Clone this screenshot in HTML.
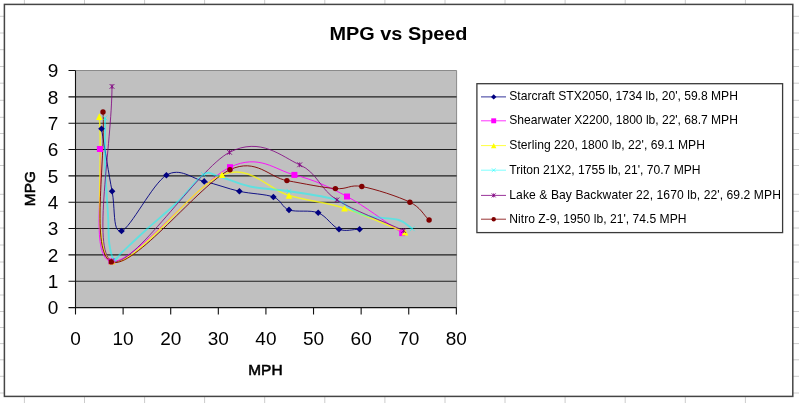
<!DOCTYPE html>
<html><head><meta charset="utf-8"><title>MPG vs Speed</title>
<style>html,body{margin:0;padding:0;background:#fff}body{width:799px;height:403px;overflow:hidden}</style></head>
<body>
<svg width="799" height="403" viewBox="0 0 799 403" style="display:block;will-change:transform;filter:blur(0.35px)">
<rect width="799" height="403" fill="#fff"/>
<path d="M24.4,0V403 M84.5,0V403 M144.6,0V403 M204.6,0V403 M264.7,0V403 M324.8,0V403 M384.9,0V403 M445.0,0V403 M505.0,0V403 M565.1,0V403 M625.2,0V403 M685.3,0V403 M745.4,0V403 M0,16.3H799 M0,33.0H799 M0,49.7H799 M0,66.5H799 M0,83.2H799 M0,100.3H799 M0,117.3H799 M0,133.5H799 M0,149.5H799 M0,165.5H799 M0,194.3H799 M0,211.3H799 M0,228.0H799 M0,245.0H799 M0,262.0H799 M0,278.5H799 M0,295.0H799 M0,311.5H799 M0,327.5H799 M0,343.6H799 M0,359.8H799 M0,376.3H799 M0,393.0H799" stroke="#cccccc" stroke-width="1" fill="none"/>
<rect x="4.4" y="4.4" width="788.4" height="392" fill="#fff" stroke="#454545" stroke-width="1.5"/>
<rect x="75.5" y="70.5" width="381.1" height="237.10000000000002" fill="#c0c0c0"/>
<path d="M75.5,70.5H456.6V307.6" stroke="#8a8a8a" stroke-width="1" fill="none"/>
<path d="M75.5,281.26H456.6 M75.5,254.91H456.6 M75.5,228.57H456.6 M75.5,202.22H456.6 M75.5,175.88H456.6 M75.5,149.54H456.6 M75.5,123.19H456.6 M75.5,96.85H456.6" stroke="#202020" stroke-width="1.1" fill="none"/>
<path d="M75.5,70.5V314.6 M68.5,307.6H456.6 M68.5,307.60H75.5 M68.5,281.26H75.5 M68.5,254.91H75.5 M68.5,228.57H75.5 M68.5,202.22H75.5 M68.5,175.88H75.5 M68.5,149.54H75.5 M68.5,123.19H75.5 M68.5,96.85H75.5 M68.5,70.50H75.5 M75.50,307.6V314.6 M123.11,307.6V314.6 M170.71,307.6V314.6 M218.32,307.6V314.6 M265.92,307.6V314.6 M313.53,307.6V314.6 M361.14,307.6V314.6 M408.74,307.6V314.6 M456.35,307.6V314.6" stroke="#111" stroke-width="1.1" fill="none"/>
<path d="M101.50,128.80 C105.03,149.63 108.77,174.27 112.10,191.30 C115.43,208.33 112.45,233.68 121.50,231.00 C130.55,228.32 152.62,183.47 166.40,175.20 C180.18,166.93 192.03,178.72 204.20,181.40 C216.37,184.08 227.87,188.70 239.40,191.30 C250.93,193.90 265.13,193.90 273.40,197.00 C281.67,200.10 281.53,207.27 289.00,209.90 C296.47,212.53 309.87,209.58 318.20,212.80 C326.53,216.02 332.10,226.47 339.00,229.20 C345.90,231.93 352.73,229.20 359.60,229.20" stroke="#000080" stroke-width="1.0" stroke-opacity="0.9" fill="none"/>
<path d="M99.90,149.00 C103.80,186.50 89.92,258.47 111.60,261.50 C133.28,264.53 199.53,181.63 230.00,167.20 C259.31,153.32 274.90,170.02 294.40,174.90 C313.90,179.78 329.03,186.80 347.00,196.50 C364.97,206.20 383.80,220.90 402.20,233.10" stroke="#FF00FF" stroke-width="1.0" stroke-opacity="0.9" fill="none"/>
<path d="M99.30,116.60 C103.53,164.83 91.55,251.62 112.00,261.30 C132.45,270.98 192.50,185.67 222.00,174.70 C251.50,163.73 268.58,189.92 289.00,195.50 C309.42,201.08 325.17,202.08 344.50,208.20 C363.83,214.32 384.83,224.20 405.00,232.20" stroke="#FFFF00" stroke-width="1.5" stroke-opacity="0.75" fill="none"/>
<path d="M105.00,118.00 C105.07,133.67 104.97,153.00 105.20,165.00 C105.43,177.00 105.90,181.17 106.40,190.00 C106.90,198.83 107.73,209.17 108.20,218.00 C108.67,226.83 108.23,236.07 109.20,243.00 C110.17,249.93 112.03,257.88 114.00,259.60 C115.97,261.32 117.55,256.50 121.00,253.30 C126.50,248.20 137.62,237.50 147.00,229.00 C156.38,220.50 167.88,211.38 177.30,202.30 C186.72,193.22 196.72,178.88 203.50,174.50 C209.62,170.54 210.94,174.18 218.00,176.00 C225.75,178.00 238.17,183.95 250.00,186.50 C261.83,189.05 274.83,189.13 289.00,191.30 C303.17,193.47 324.00,196.13 335.00,199.50 C346.00,202.87 349.17,208.67 355.00,211.50 C360.83,214.33 362.70,215.08 370.00,216.50 C377.30,217.92 391.75,217.95 398.80,220.00 C405.85,222.05 407.80,225.87 412.30,228.80" stroke="#00FFFF" stroke-width="1.9" stroke-opacity="0.5" fill="none"/>
<path d="M112.00,86.40 C111.83,144.60 91.92,250.02 111.50,261.00 C131.08,271.98 198.13,168.33 229.50,152.30 C260.87,136.27 281.80,156.87 299.70,164.80 C317.60,172.73 319.57,188.93 336.90,199.90 C354.23,210.87 381.43,220.37 403.70,230.60" stroke="#800080" stroke-width="1.0" stroke-opacity="0.8" fill="none"/>
<path d="M103.00,112.00 C105.77,161.97 90.13,252.28 111.30,261.90 C132.47,271.52 200.73,183.25 230.00,169.70 C256.29,157.53 269.33,177.45 286.90,180.60 C304.47,183.75 322.92,187.62 335.40,188.60 C347.88,189.58 349.38,184.23 361.80,186.50 C374.22,188.77 398.68,196.62 409.90,202.20 C421.12,207.78 422.70,214.07 429.10,220.00" stroke="#800000" stroke-width="1.0" stroke-opacity="0.9" fill="none"/>
<path d="M101.50,125.50 L104.80,128.80 L101.50,132.10 L98.20,128.80Z" fill="#000080"/>
<path d="M112.10,188.00 L115.40,191.30 L112.10,194.60 L108.80,191.30Z" fill="#000080"/>
<path d="M121.50,227.70 L124.80,231.00 L121.50,234.30 L118.20,231.00Z" fill="#000080"/>
<path d="M166.40,171.90 L169.70,175.20 L166.40,178.50 L163.10,175.20Z" fill="#000080"/>
<path d="M204.20,178.10 L207.50,181.40 L204.20,184.70 L200.90,181.40Z" fill="#000080"/>
<path d="M239.40,188.00 L242.70,191.30 L239.40,194.60 L236.10,191.30Z" fill="#000080"/>
<path d="M273.40,193.70 L276.70,197.00 L273.40,200.30 L270.10,197.00Z" fill="#000080"/>
<path d="M289.00,206.60 L292.30,209.90 L289.00,213.20 L285.70,209.90Z" fill="#000080"/>
<path d="M318.20,209.50 L321.50,212.80 L318.20,216.10 L314.90,212.80Z" fill="#000080"/>
<path d="M339.00,225.90 L342.30,229.20 L339.00,232.50 L335.70,229.20Z" fill="#000080"/>
<path d="M359.60,225.90 L362.90,229.20 L359.60,232.50 L356.30,229.20Z" fill="#000080"/>
<rect x="96.90" y="146.00" width="6.0" height="6.0" fill="#FF00FF"/>
<rect x="108.60" y="258.50" width="6.0" height="6.0" fill="#FF00FF"/>
<rect x="227.00" y="164.20" width="6.0" height="6.0" fill="#FF00FF"/>
<rect x="291.40" y="171.90" width="6.0" height="6.0" fill="#FF00FF"/>
<rect x="344.00" y="193.50" width="6.0" height="6.0" fill="#FF00FF"/>
<rect x="399.20" y="230.10" width="6.0" height="6.0" fill="#FF00FF"/>
<path d="M99.30,113.30 L102.60,119.90 L96.00,119.90Z" fill="#FFFF00"/>
<path d="M112.00,258.00 L115.30,264.60 L108.70,264.60Z" fill="#FFFF00"/>
<path d="M222.00,171.40 L225.30,178.00 L218.70,178.00Z" fill="#FFFF00"/>
<path d="M289.00,192.20 L292.30,198.80 L285.70,198.80Z" fill="#FFFF00"/>
<path d="M344.50,204.90 L347.80,211.50 L341.20,211.50Z" fill="#FFFF00"/>
<path d="M405.00,228.90 L408.30,235.50 L401.70,235.50Z" fill="#FFFF00"/>
<path d="M102.60,115.60 L107.40,120.40 M107.40,115.60 L102.60,120.40" stroke="#00FFFF" stroke-width="1" fill="none" opacity="0.5"/>
<path d="M111.60,257.20 L116.40,262.00 M116.40,257.20 L111.60,262.00" stroke="#00FFFF" stroke-width="1" fill="none" opacity="0.5"/>
<path d="M201.10,172.10 L205.90,176.90 M205.90,172.10 L201.10,176.90" stroke="#00FFFF" stroke-width="1" fill="none" opacity="0.5"/>
<path d="M286.60,188.90 L291.40,193.70 M291.40,188.90 L286.60,193.70" stroke="#00FFFF" stroke-width="1" fill="none" opacity="0.5"/>
<path d="M409.90,226.40 L414.70,231.20 M414.70,226.40 L409.90,231.20" stroke="#00FFFF" stroke-width="1" fill="none" opacity="0.5"/>
<path d="M109.60,84.00 L114.40,88.80 M114.40,84.00 L109.60,88.80 M112.00,84.00 L112.00,88.80" stroke="#800080" stroke-width="0.9" fill="none"/>
<path d="M109.10,258.60 L113.90,263.40 M113.90,258.60 L109.10,263.40 M111.50,258.60 L111.50,263.40" stroke="#800080" stroke-width="0.9" fill="none"/>
<path d="M227.10,149.90 L231.90,154.70 M231.90,149.90 L227.10,154.70 M229.50,149.90 L229.50,154.70" stroke="#800080" stroke-width="0.9" fill="none"/>
<path d="M297.30,162.40 L302.10,167.20 M302.10,162.40 L297.30,167.20 M299.70,162.40 L299.70,167.20" stroke="#800080" stroke-width="0.9" fill="none"/>
<path d="M334.50,197.50 L339.30,202.30 M339.30,197.50 L334.50,202.30 M336.90,197.50 L336.90,202.30" stroke="#800080" stroke-width="0.9" fill="none"/>
<path d="M401.30,228.20 L406.10,233.00 M406.10,228.20 L401.30,233.00 M403.70,228.20 L403.70,233.00" stroke="#800080" stroke-width="0.9" fill="none"/>
<circle cx="103.00" cy="112.00" r="2.70" fill="#800000"/>
<circle cx="111.30" cy="261.90" r="2.70" fill="#800000"/>
<circle cx="230.00" cy="169.70" r="2.70" fill="#800000"/>
<circle cx="286.90" cy="180.60" r="2.70" fill="#800000"/>
<circle cx="335.40" cy="188.60" r="2.70" fill="#800000"/>
<circle cx="361.80" cy="186.50" r="2.70" fill="#800000"/>
<circle cx="409.90" cy="202.20" r="2.70" fill="#800000"/>
<circle cx="429.10" cy="220.00" r="2.70" fill="#800000"/>
<text x="398.5" y="39.8" text-anchor="middle" font-family="Liberation Sans, Arial, sans-serif" font-size="19" font-weight="bold" textLength="138" lengthAdjust="spacingAndGlyphs" fill="#000">MPG vs Speed</text>
<text x="58.3" y="314.30" text-anchor="end" font-family="Liberation Sans, Arial, sans-serif" font-size="19" fill="#000">0</text>
<text x="58.3" y="287.96" text-anchor="end" font-family="Liberation Sans, Arial, sans-serif" font-size="19" fill="#000">1</text>
<text x="58.3" y="261.61" text-anchor="end" font-family="Liberation Sans, Arial, sans-serif" font-size="19" fill="#000">2</text>
<text x="58.3" y="235.27" text-anchor="end" font-family="Liberation Sans, Arial, sans-serif" font-size="19" fill="#000">3</text>
<text x="58.3" y="208.92" text-anchor="end" font-family="Liberation Sans, Arial, sans-serif" font-size="19" fill="#000">4</text>
<text x="58.3" y="182.58" text-anchor="end" font-family="Liberation Sans, Arial, sans-serif" font-size="19" fill="#000">5</text>
<text x="58.3" y="156.24" text-anchor="end" font-family="Liberation Sans, Arial, sans-serif" font-size="19" fill="#000">6</text>
<text x="58.3" y="129.89" text-anchor="end" font-family="Liberation Sans, Arial, sans-serif" font-size="19" fill="#000">7</text>
<text x="58.3" y="103.55" text-anchor="end" font-family="Liberation Sans, Arial, sans-serif" font-size="19" fill="#000">8</text>
<text x="58.3" y="77.20" text-anchor="end" font-family="Liberation Sans, Arial, sans-serif" font-size="19" fill="#000">9</text>
<text x="75.50" y="344.8" text-anchor="middle" font-family="Liberation Sans, Arial, sans-serif" font-size="19" fill="#000">0</text>
<text x="123.11" y="344.8" text-anchor="middle" font-family="Liberation Sans, Arial, sans-serif" font-size="19" fill="#000">10</text>
<text x="170.71" y="344.8" text-anchor="middle" font-family="Liberation Sans, Arial, sans-serif" font-size="19" fill="#000">20</text>
<text x="218.32" y="344.8" text-anchor="middle" font-family="Liberation Sans, Arial, sans-serif" font-size="19" fill="#000">30</text>
<text x="265.92" y="344.8" text-anchor="middle" font-family="Liberation Sans, Arial, sans-serif" font-size="19" fill="#000">40</text>
<text x="313.53" y="344.8" text-anchor="middle" font-family="Liberation Sans, Arial, sans-serif" font-size="19" fill="#000">50</text>
<text x="361.14" y="344.8" text-anchor="middle" font-family="Liberation Sans, Arial, sans-serif" font-size="19" fill="#000">60</text>
<text x="408.74" y="344.8" text-anchor="middle" font-family="Liberation Sans, Arial, sans-serif" font-size="19" fill="#000">70</text>
<text x="456.35" y="344.8" text-anchor="middle" font-family="Liberation Sans, Arial, sans-serif" font-size="19" fill="#000">80</text>
<text x="265.4" y="374.7" text-anchor="middle" font-family="Liberation Sans, Arial, sans-serif" font-size="15.4" stroke="#000" stroke-width="0.55" fill="#000">MPH</text>
<text transform="translate(35,188.6) rotate(-90)" text-anchor="middle" font-family="Liberation Sans, Arial, sans-serif" font-size="15.4" stroke="#000" stroke-width="0.55" fill="#000">MPG</text>
<rect x="476.9" y="83.7" width="305.7" height="148.9" fill="#fff" stroke="#3a3a3a" stroke-width="1.3"/>
<path d="M481,96.9H506" stroke="#000080" stroke-width="1" stroke-opacity="0.8" fill="none"/>
<path d="M493.70,94.19 L496.41,96.90 L493.70,99.61 L490.99,96.90Z" fill="#000080"/>
<text x="509.3" y="100.40" font-family="Liberation Sans, Arial, sans-serif" font-size="12.1" textLength="228.6" lengthAdjust="spacing" fill="#000">Starcraft STX2050, 1734 lb, 20', 59.8 MPH</text>
<path d="M481,120.8H506" stroke="#FF00FF" stroke-width="1" stroke-opacity="0.8" fill="none"/>
<rect x="491.24" y="118.34" width="4.92" height="4.92" fill="#FF00FF"/>
<text x="509.3" y="124.30" font-family="Liberation Sans, Arial, sans-serif" font-size="12.1" textLength="228.6" lengthAdjust="spacing" fill="#000">Shearwater X2200, 1800 lb, 22', 68.7 MPH</text>
<path d="M481,145.6H506" stroke="#FFFF00" stroke-width="1" stroke-opacity="0.75" fill="none"/>
<path d="M493.70,142.89 L496.41,148.31 L490.99,148.31Z" fill="#FFFF00"/>
<text x="509.3" y="149.10" font-family="Liberation Sans, Arial, sans-serif" font-size="12.1" textLength="195.6" lengthAdjust="spacing" fill="#000">Sterling 220, 1800 lb, 22', 69.1 MPH</text>
<path d="M481,170.2H506" stroke="#00FFFF" stroke-width="1" stroke-opacity="0.5" fill="none"/>
<path d="M491.73,168.23 L495.67,172.17 M495.67,168.23 L491.73,172.17" stroke="#00FFFF" stroke-width="1" fill="none" opacity="0.5"/>
<text x="509.3" y="173.70" font-family="Liberation Sans, Arial, sans-serif" font-size="12.1" textLength="191.2" lengthAdjust="spacing" fill="#000">Triton 21X2, 1755 lb, 21', 70.7 MPH</text>
<path d="M481,195.4H506" stroke="#800080" stroke-width="1" stroke-opacity="0.8" fill="none"/>
<path d="M491.73,193.43 L495.67,197.37 M495.67,193.43 L491.73,197.37 M493.70,193.43 L493.70,197.37" stroke="#800080" stroke-width="0.9" fill="none"/>
<text x="509.3" y="198.90" font-family="Liberation Sans, Arial, sans-serif" font-size="12.1" textLength="271.6" lengthAdjust="spacing" fill="#000">Lake &amp; Bay Backwater 22, 1670 lb, 22', 69.2 MPH</text>
<path d="M481,219.2H506" stroke="#800000" stroke-width="1" stroke-opacity="0.8" fill="none"/>
<circle cx="493.70" cy="219.20" r="2.21" fill="#800000"/>
<text x="509.3" y="222.70" font-family="Liberation Sans, Arial, sans-serif" font-size="12.1" textLength="177.2" lengthAdjust="spacing" fill="#000">Nitro Z-9, 1950 lb, 21', 74.5 MPH</text>
</svg>
</body></html>
